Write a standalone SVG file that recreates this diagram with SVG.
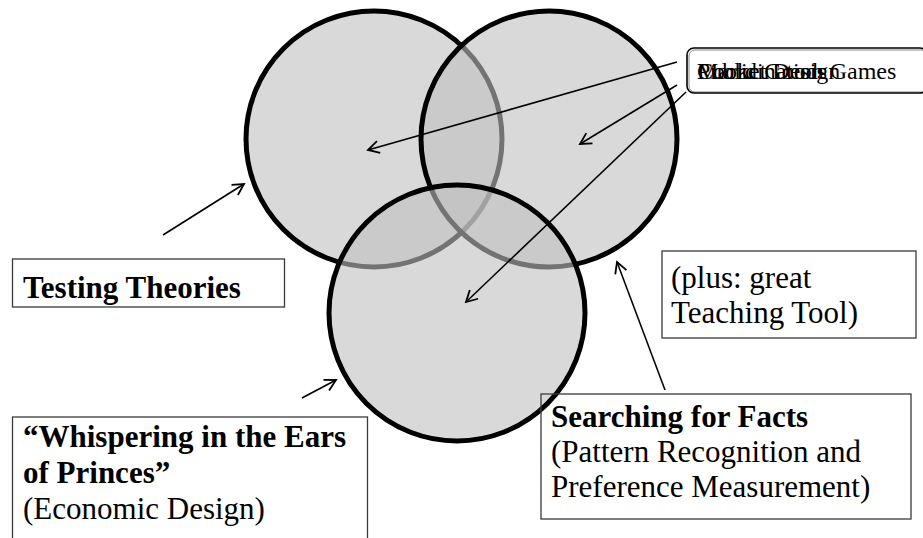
<svg xmlns="http://www.w3.org/2000/svg" width="923" height="538" viewBox="0 0 923 538">
  <defs>
    <marker id="open-arrow" markerUnits="userSpaceOnUse" markerWidth="14" markerHeight="14" viewBox="0 0 14 14" refX="12" refY="7" orient="auto">
      <path d="M1,1 L12,7 L1,13" fill="none" stroke="#000" stroke-width="1.8"/>
    </marker>
    <style>
      .circle { fill: #bfbfbf; fill-opacity: 0.6; stroke: #000; stroke-width: 5; }
      .box { fill: none; stroke: #3a3a3a; stroke-width: 1.3; }
      .link { stroke: #000; stroke-width: 1.6; fill: none; marker-end: url(#open-arrow); }
      .t { font-family: "Liberation Serif", "Times New Roman", serif; font-size: 31px; fill: #000; }
      .b { font-weight: bold; }
      .tag { font-family: "Liberation Serif", "Times New Roman", serif; font-size: 24px; fill: #000; }
    </style>
  </defs>
  <rect width="923" height="538" fill="#fff"/>

  <!-- Three overlapping areas -->
  <g id="circle-testing"><circle class="circle" cx="374" cy="139" r="128"/></g>
  <g id="circle-facts"><circle class="circle" cx="549" cy="139" r="128"/></g>
  <g id="circle-design"><circle class="circle" cx="457" cy="313" r="128"/></g>

  <!-- Connectors -->
  <g id="connectors">
    <line class="link" x1="677" y1="62" x2="368" y2="150"/>
    <line class="link" x1="677" y1="85" x2="580" y2="144"/>
    <line class="link" x1="686" y1="92" x2="466" y2="302"/>
    <line class="link" x1="163" y1="235" x2="244" y2="184"/>
    <line class="link" x1="302" y1="398" x2="336" y2="380"/>
    <line class="link" x1="665" y1="390" x2="617" y2="262"/>
  </g>

  <!-- Topic tag (several labels stacked in one place) -->
  <g id="topic-tag">
    <rect x="689" y="50" width="240" height="42" rx="6" fill="none" stroke="#888" stroke-width="1"/>
    <rect x="687" y="48" width="240" height="45" rx="7" fill="none" stroke="#000" stroke-width="1.6"/>
    <text class="tag" x="697" y="79">Market Design</text>
    <text class="tag" x="697" y="79">Public Goods</text>
    <text class="tag" x="697" y="79">Coordination Games</text>
  </g>

  <g id="testing-theories">
    <rect class="box" x="12.5" y="259" width="272" height="48"/>
    <text class="t b" x="23" y="298">Testing Theories</text>
  </g>

  <g id="teaching-tool">
    <rect class="box" x="662" y="251" width="254" height="87"/>
    <text class="t" x="671" y="288">(plus: great</text>
    <text class="t" x="671" y="323">Teaching Tool)</text>
  </g>

  <g id="whispering">
    <rect class="box" x="12.5" y="417" width="355" height="140"/>
    <text class="t b" x="23" y="447">“Whispering in the Ears</text>
    <text class="t b" x="23" y="483">of Princes”</text>
    <text class="t" x="23" y="519">(Economic Design)</text>
  </g>

  <g id="searching-facts">
    <rect class="box" x="541" y="394" width="370" height="125"/>
    <text class="t b" x="551" y="427">Searching for Facts</text>
    <text class="t" x="551" y="462">(Pattern Recognition and</text>
    <text class="t" x="551" y="497">Preference Measurement)</text>
  </g>
</svg>
